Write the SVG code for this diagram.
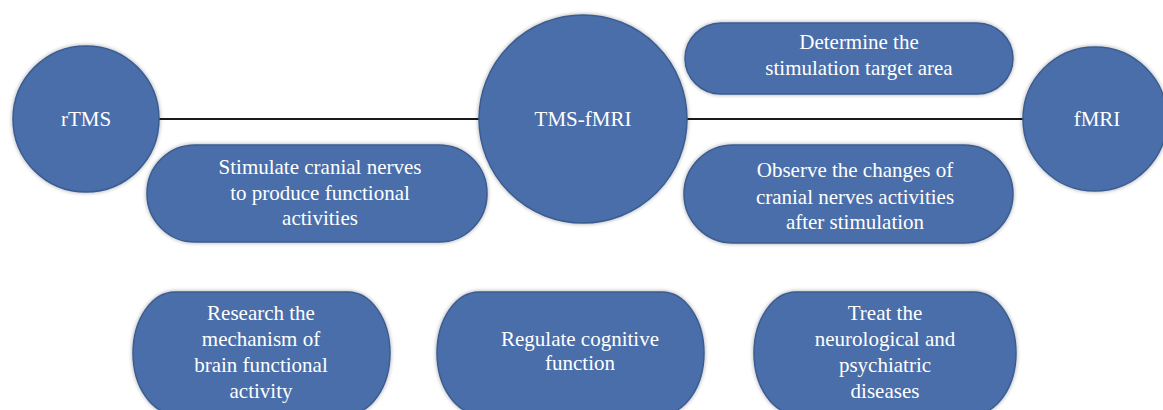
<svg xmlns="http://www.w3.org/2000/svg" width="1163" height="410" viewBox="0 0 1163 410">
<style>
.n{fill:#4a6ea9;stroke:#3b5c90;stroke-width:1.5;filter:url(#glow)}
.t{font-family:"Liberation Serif","Times New Roman",serif;font-size:21px;fill:#ffffff;text-anchor:middle}
.c{stroke:#1a1a1a;stroke-width:2;fill:none}
</style>
<defs>
<filter id="glow" x="-10%" y="-10%" width="120%" height="120%">
<feGaussianBlur in="SourceAlpha" stdDeviation="2"/>
<feOffset dx="0" dy="0"/>
<feComponentTransfer><feFuncA type="linear" slope="0.35"/></feComponentTransfer>
<feMerge><feMergeNode/><feMergeNode in="SourceGraphic"/></feMerge>
</filter>
</defs>
<rect width="1163" height="410" fill="#ffffff"/>
<g id="connectors">
<line class="c" x1="158" y1="119" x2="481" y2="119"/>
<line class="c" x1="686" y1="119" x2="1024" y2="119"/>
</g>
<g id="rtms">
<circle class="n" cx="86" cy="119" r="73"/>
<text class="t" x="86" y="126">rTMS</text>
</g>
<g id="tmsfmri">
<circle class="n" cx="583" cy="119" r="104"/>
<text class="t" x="583" y="126">TMS-fMRI</text>
</g>
<g id="fmri">
<circle class="n" cx="1095" cy="119" r="72"/>
<text class="t" x="1097" y="126">fMRI</text>
</g>
<g id="stimulate">
<rect class="n" x="147" y="145" width="340" height="97" rx="48" ry="48"/>
<text class="t" x="320" y="174">Stimulate cranial nerves</text>
<text class="t" x="320" y="200">to produce functional</text>
<text class="t" x="320" y="225">activities</text>
</g>
<g id="determine">
<rect class="n" x="685" y="23" width="328" height="71" rx="36" ry="36"/>
<text class="t" x="859" y="49">Determine the</text>
<text class="t" x="859" y="75">stimulation target area</text>
</g>
<g id="observe">
<rect class="n" x="684" y="145" width="329" height="98" rx="49" ry="49"/>
<text class="t" x="855" y="177">Observe the changes of</text>
<text class="t" x="855" y="204">cranial nerves activities</text>
<text class="t" x="855" y="229">after stimulation</text>
</g>
<g id="research">
<rect class="n" x="133" y="292" width="257" height="122" rx="42" ry="61"/>
<text class="t" x="261" y="320">Research the</text>
<text class="t" x="261" y="346">mechanism of</text>
<text class="t" x="261" y="372">brain functional</text>
<text class="t" x="261" y="398">activity</text>
</g>
<g id="regulate">
<rect class="n" x="437" y="292" width="267" height="122" rx="42" ry="61"/>
<text class="t" x="580" y="346">Regulate cognitive</text>
<text class="t" x="580" y="370">function</text>
</g>
<g id="treat">
<rect class="n" x="754" y="292" width="262" height="122" rx="42" ry="61"/>
<text class="t" x="885" y="320">Treat the</text>
<text class="t" x="885" y="346">neurological and</text>
<text class="t" x="885" y="372">psychiatric</text>
<text class="t" x="885" y="398">diseases</text>
</g>
</svg>
